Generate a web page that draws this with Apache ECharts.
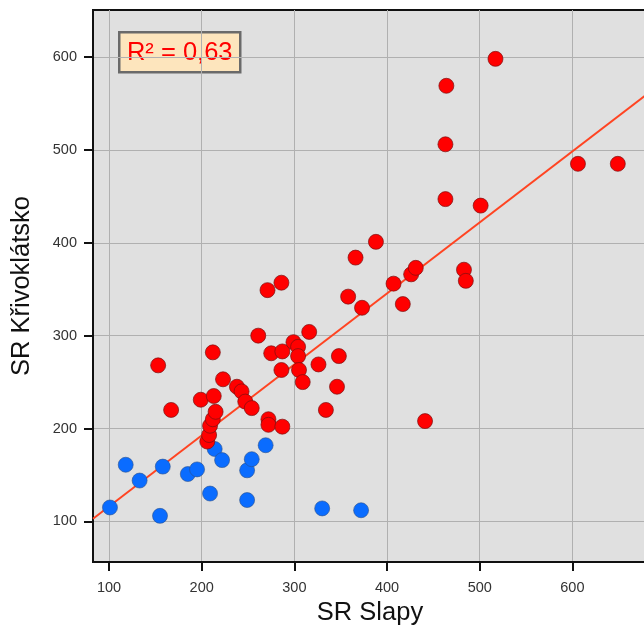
<!DOCTYPE html>
<html>
<head>
<meta charset="utf-8">
<script src="https://cdn.jsdelivr.net/npm/echarts@6/dist/echarts.min.js"></script>
<style>
html,body{margin:0;padding:0;background:#fff;}
#chart{width:644px;height:627px;}
</style>
</head>
<body>
<div id="chart"></div>
<script>
const xTicks = [100, 200, 300, 400, 500, 600];
const yTicks = [100, 200, 300, 400, 500, 600];

const blueSlapy = [101, 118, 133, 155, 158, 185, 195, 209, 214, 222, 249, 249, 254, 269, 330, 372];
const blueKrivoklatsko = [115, 161, 144, 106, 159, 151, 156, 130, 178, 166, 155, 123, 167, 182, 114, 112];

const redSlapy = [153, 167, 199, 206, 208, 209, 212, 215, 212, 213, 223, 238, 243, 247, 254, 261, 271, 272, 272, 275, 286, 287, 286, 287, 299, 304, 304, 305, 309, 316, 326, 334, 348, 346, 358, 366, 373, 388, 407, 417, 426, 431, 441, 463, 463, 464, 483, 485, 501, 517, 606, 649];
const redKrivoklatsko = [268, 220, 231, 186, 193, 203, 210, 218, 282, 235, 253, 245, 240, 229, 222, 300, 349, 210, 204, 281, 357, 283, 263, 202, 293, 288, 278, 263, 250, 304, 269, 220, 278, 245, 342, 384, 330, 401, 356, 334, 366, 373, 208, 506, 447, 569, 371, 359, 440, 598, 485, 485];

const fitSlope = 0.7646;
const fitIntercept = 39.7;
const fitX = [82.7, 680.5];
const rSquaredText = 'R² = 0,63';

const xMin = 82.7, xMax = 680.5, yMin = 56.3, yMax = 650.6;

const zip = (a, b) => a.map((v, i) => [v, b[i]]);
const fitData = fitX.map(x => [x, fitIntercept + fitSlope * x]);

const chart = echarts.init(document.getElementById('chart'), null, {renderer: 'canvas'});
const FONT = 'Liberation Sans, Arial, sans-serif';
chart.setOption({
  animation: false,
  backgroundColor: '#ffffff',
  grid: {
    left: 93, top: 10, width: 554, height: 552,
    outerBoundsMode: 'none', containLabel: false,
    show: true, backgroundColor: '#e0e0e0', borderColor: '#111', borderWidth: 2
  },
  xAxis: {
    type: 'value', min: xMin, max: xMax,
    name: 'SR Slapy', nameLocation: 'middle', nameGap: 38,
    nameTextStyle: {fontSize: 25.5, color: '#111', fontFamily: FONT},
    axisLine: {show: true, lineStyle: {color: '#111', width: 2}},
    axisTick: {show: true, customValues: xTicks, length: 9, lineStyle: {color: '#111', width: 2}},
    axisLabel: {customValues: xTicks, margin: 18, fontSize: 14.5, color: '#333', fontFamily: FONT},
    splitLine: {show: true, lineStyle: {color: '#b0b0b0', width: 1}}
  },
  yAxis: {
    type: 'value', min: yMin, max: yMax,
    name: 'SR Křivoklátsko', nameLocation: 'middle', nameGap: 58, nameRotate: 90,
    nameTextStyle: {fontSize: 25.5, color: '#111', fontFamily: FONT},
    axisLine: {show: true, lineStyle: {color: '#111', width: 2}},
    axisTick: {show: true, customValues: yTicks, length: 9, lineStyle: {color: '#111', width: 2}},
    axisLabel: {customValues: yTicks, margin: 16, fontSize: 14.5, color: '#333', fontFamily: FONT},
    splitLine: {show: true, lineStyle: {color: '#b0b0b0', width: 1}}
  },
  graphic: [{
    type: 'group', left: 118, top: 31, z: 100,
    children: [
      {type: 'rect', shape: {x: 0, y: 0, width: 121, height: 40},
       style: {fill: '#fde5bd', stroke: '#6a6a6a', lineWidth: 2.5}},
      {type: 'text', x: 60.5, y: 21,
       style: {text: rSquaredText, fill: '#ff0000', fontSize: 25.5, fontFamily: FONT,
               align: 'center', verticalAlign: 'middle'}}
    ]
  }],
  series: [
    {
      type: 'line', data: fitData, showSymbol: false, symbol: 'none', z: 1,
      lineStyle: {color: '#ff4422', width: 2}, silent: true
    },
    {
      type: 'scatter', data: zip(blueSlapy, blueKrivoklatsko), symbolSize: 15, z: 3,
      itemStyle: {color: '#0a6cff', borderColor: '#2a4f8a', borderWidth: 0.6, opacity: 1}
    },
    {
      type: 'scatter', data: zip(redSlapy, redKrivoklatsko), symbolSize: 15, z: 3,
      itemStyle: {color: '#ff0000', borderColor: '#7a1010', borderWidth: 0.7, opacity: 1}
    }
  ]
});
</script>
</body>
</html>
